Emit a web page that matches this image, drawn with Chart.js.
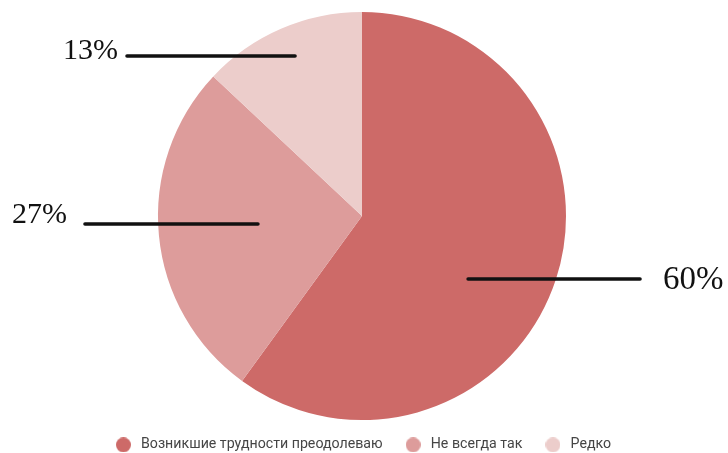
<!DOCTYPE html>
<html lang="ru">
<head>
<meta charset="utf-8">
<script src="https://cdn.jsdelivr.net/npm/chart.js@4/dist/chart.umd.min.js"></script>
<style>
  html, body { margin: 0; padding: 0; background: #ffffff; }
  #wrap { width: 728px; height: 453px; position: relative; }
</style>
</head>
<body>
<div id="wrap"><canvas id="chart" width="728" height="453"></canvas></div>
<script>
// Survey answers (percent of respondents)
const categories = ['Возникшие трудности преодолеваю', 'Не всегда так', 'Редко'];
const shares = [60, 27, 13];
const sliceColors = ['rgb(205,106,104)', 'rgb(221,156,155)', 'rgb(236,205,203)'];

// Small round legend markers, one per slice colour
function makeDot(color, size) {
  const c = document.createElement('canvas');
  c.width = size; c.height = size;
  const g = c.getContext('2d');
  g.fillStyle = color;
  g.beginPath();
  g.arc(size / 2, size / 2, size / 2, 0, Math.PI * 2);
  g.fill();
  return c;
}
const legendDots = sliceColors.map(c => makeDot(c, 15));

// Leader lines and percentage captions, placed in units of the pie radius
const calloutLayout = [
  { x1: 0.520, x2: 1.363, y: 0.309, tx: 1.475, ty: 0.358, align: 'left',  size: 33 },
  { x1: -1.358, x2: -0.510, y: 0.039, tx: -1.446, ty: 0.036, align: 'right', size: 30 },
  { x1: -1.152, x2: -0.328, y: -0.784, tx: -1.196, ty: -0.770, align: 'right', size: 30 }
];

const callouts = {
  id: 'callouts',
  afterDatasetsDraw(chart) {
    const meta = chart.getDatasetMeta(0);
    const ctx = chart.ctx;
    meta.data.forEach((arc, i) => {
      const L = calloutLayout[i];
      const cx = arc.x, cy = arc.y, r = arc.outerRadius;
      ctx.save();
      ctx.strokeStyle = '#111111';
      ctx.lineWidth = 3.5;
      ctx.lineCap = 'round';
      ctx.beginPath();
      ctx.moveTo(cx + L.x1 * r, cy + L.y * r);
      ctx.lineTo(cx + L.x2 * r, cy + L.y * r);
      ctx.stroke();
      ctx.fillStyle = '#111111';
      ctx.font = L.size + 'px "Liberation Serif", "Times New Roman", serif';
      ctx.textAlign = L.align;
      ctx.textBaseline = 'alphabetic';
      ctx.fillText(chart.data.datasets[0].data[i] + '%', cx + L.tx * r, cy + L.ty * r);
      ctx.restore();
    });
  }
};

new Chart(document.getElementById('chart'), {
  type: 'pie',
  data: {
    labels: categories,
    datasets: [{
      data: shares,
      backgroundColor: sliceColors,
      borderWidth: 0,
      radius: 204
    }]
  },
  options: {
    responsive: false,
    animation: false,
    layout: { padding: { top: 14.3, bottom: -9, left: 0, right: 4 } },
    plugins: {
      tooltip: { enabled: false },
      legend: {
        position: 'bottom',
        labels: {
          usePointStyle: true,
          pointStyleWidth: 21,
          boxHeight: 14,
          padding: 20,
          color: '#454545',
          font: { family: 'Roboto, "Liberation Sans", Arial, sans-serif', size: 14.2 },
          generateLabels(chart) {
            const items = Chart.overrides.pie.plugins.legend.labels.generateLabels(chart);
            items.forEach((it, i) => { it.pointStyle = legendDots[i]; });
            return items;
          }
        }
      }
    }
  },
  plugins: [callouts]
});
</script>
</body>
</html>
